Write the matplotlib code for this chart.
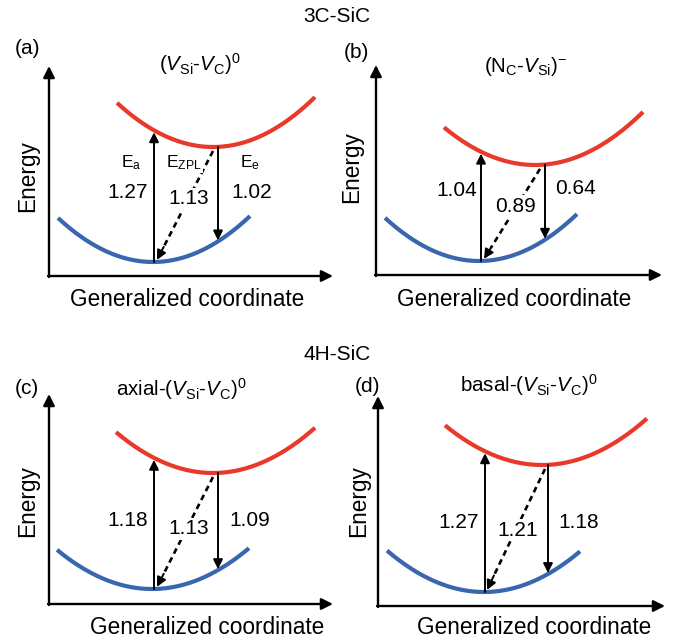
import numpy as np
import matplotlib
matplotlib.use("Agg")
import matplotlib.pyplot as plt

plt.rcParams["font.family"] = ["Liberation Sans", "DejaVu Sans"]
plt.rcParams["mathtext.fontset"] = "custom"
plt.rcParams["mathtext.rm"] = "Liberation Sans"
plt.rcParams["mathtext.it"] = "Liberation Sans:italic"

RED = "#E8392A"
BLUE = "#3A66B0"

# energies (eV) for each defect
panel_labels = ["(a)", "(b)", "(c)", "(d)"]
titles = [r"$(V_{\rm Si}$-$V_{\rm C})^0$",
          r"(N$_{\rm C}$-$V_{\rm Si}$)$^{-}$",
          r"axial-($V_{\rm Si}$-$V_{\rm C}$)$^0$",
          r"basal-($V_{\rm Si}$-$V_{\rm C}$)$^0$"]
E_abs = [1.27, 1.04, 1.18, 1.27]
E_zpl = [1.13, 0.89, 1.13, 1.21]
E_em = [1.02, 0.64, 1.09, 1.18]
group_titles = ["3C-SiC", "4H-SiC"]

# schematic geometry (pixels, y downwards)
origin_x = [49, 376, 49, 378]
origin_y = [276, 275, 604, 606]
yaxis_top = [66, 65, 394, 396]
xaxis_right = [333, 662, 333, 665]
red_vx = [213, 535, 213, 542]
red_vy = [147, 165, 473, 465]
red_x0 = [117, 444, 116, 445]
red_x1 = [315, 643, 315, 647]
red_end_y = [100, 120, 430, 422]
blue_vx = [153, 479, 152, 484]
blue_vy = [262, 261, 589, 592]
blue_x0 = [58, 385, 57, 387]
blue_x1 = [250, 577, 249, 580]
blue_end_y = [217, 216, 549, 551]
up_x = [154, 481, 154, 485]
down_x = [218, 545, 218, 548]
zpl_x0 = [213, 540, 213, 545]
zpl_x1 = [157, 484, 157, 487]

# label positions
plabel_xy = [(27, 49), (356, 52), (27, 388), (367, 387)]
title_xy = [(200, 64), (526, 66), (181, 389), (529, 385)]
energy_xy = [(28, 176), (352, 167), (28, 501), (359, 501)]
gen_xy = [(187, 299), (514, 300), (207, 628), (534, 628)]
abs_xy = [(128, 192), (457, 191), (128, 520), (459, 523)]
zpl_xy = [(189, 199), (515, 206), (189, 529), (518, 530)]
em_xy = [(252, 192), (576, 189), (250, 520), (579, 522)]
group_xy = [(337, 16), (337, 354)]


def parabola(vx, vy, x0, x1, end_y):
    half = 0.5 * ((vx - x0) + (x1 - vx))
    k = (vy - end_y) / half ** 2
    return lambda x: vy - k * (x - vx) ** 2


fig = plt.figure(figsize=(6.74, 6.42), dpi=100)
ax = fig.add_axes([0, 0, 1, 1])
ax.set_xlim(0, 674)
ax.set_ylim(642, 0)
ax.axis("off")

for i in range(4):
    ox, oy = origin_x[i], origin_y[i]
    # axes arrows
    ax.annotate("", xy=(ox, yaxis_top[i]), xytext=(ox, oy + 1),
                arrowprops=dict(arrowstyle="-|>", lw=1.7, color="black",
                                mutation_scale=17, shrinkA=0, shrinkB=0))
    ax.annotate("", xy=(xaxis_right[i], oy), xytext=(ox - 1, oy),
                arrowprops=dict(arrowstyle="-|>", lw=1.7, color="black",
                                mutation_scale=17, shrinkA=0, shrinkB=0))

    red = parabola(red_vx[i], red_vy[i], red_x0[i], red_x1[i], red_end_y[i])
    blue = parabola(blue_vx[i], blue_vy[i], blue_x0[i], blue_x1[i], blue_end_y[i])
    xr = np.linspace(red_x0[i], red_x1[i], 200)
    xb = np.linspace(blue_x0[i], blue_x1[i], 200)
    ax.plot(xr, red(xr), color=RED, lw=3.0, solid_capstyle="butt", zorder=2)
    ax.plot(xb, blue(xb), color=BLUE, lw=3.0, solid_capstyle="butt", zorder=2)

    # absorption (up) and emission (down) arrows
    ax.annotate("", xy=(up_x[i], red(up_x[i]) + 2), xytext=(up_x[i], blue(up_x[i])),
                arrowprops=dict(arrowstyle="-|>", lw=1.4, color="black",
                                mutation_scale=14, shrinkA=0, shrinkB=0), zorder=3)
    ax.annotate("", xy=(down_x[i], blue(down_x[i]) - 1), xytext=(down_x[i], red(down_x[i])),
                arrowprops=dict(arrowstyle="-|>", lw=1.4, color="black",
                                mutation_scale=14, shrinkA=0, shrinkB=0), zorder=3)

    # zero-phonon line (dashed)
    xs, ys = zpl_x0[i], red(zpl_x0[i]) + 4
    xe, ye = zpl_x1[i], blue(zpl_x1[i]) - 2
    t = 0.88
    ax.plot([xs, xs + t * (xe - xs)], [ys, ys + t * (ye - ys)], color="black",
            lw=1.9, dashes=(2.2, 1.6), zorder=3)
    ax.annotate("", xy=(xe, ye), xytext=(xs + t * (xe - xs), ys + t * (ye - ys)),
                arrowprops=dict(arrowstyle="-|>", lw=1.4, color="black",
                                mutation_scale=14, shrinkA=0, shrinkB=0), zorder=3)

    # texts
    ax.text(*plabel_xy[i], panel_labels[i], fontsize=15, ha="center", va="center")
    ax.text(*title_xy[i], titles[i], fontsize=14.8, ha="center", va="center")
    ax.text(*energy_xy[i], "Energy", fontsize=16.3, rotation=90, ha="center", va="center")
    ax.text(*gen_xy[i], "Generalized coordinate", fontsize=16.3, ha="center", va="center")
    ax.text(*abs_xy[i], f"{E_abs[i]:.2f}", fontsize=15, ha="center", va="center")
    ax.text(*em_xy[i], f"{E_em[i]:.2f}", fontsize=15, ha="center", va="center")
    ax.text(*zpl_xy[i], f"{E_zpl[i]:.2f}", fontsize=15, ha="center", va="center", zorder=4,
            bbox=dict(facecolor="white", edgecolor="none", pad=1.0))

# E labels in panel (a)
ax.text(131, 163, r"E$_{\rm a}$", fontsize=12.5, ha="center", va="center")
ax.text(184, 163, r"E$_{\rm ZPL}$", fontsize=12.5, ha="center", va="center", zorder=4,
        bbox=dict(facecolor="white", edgecolor="none", pad=0.5))
ax.text(250, 163, r"E$_{\rm e}$", fontsize=12.5, ha="center", va="center")

for (gx, gy), g in zip(group_xy, group_titles):
    ax.text(gx, gy, g, fontsize=15, ha="center", va="center")

fig.savefig("out.png", dpi=100)
